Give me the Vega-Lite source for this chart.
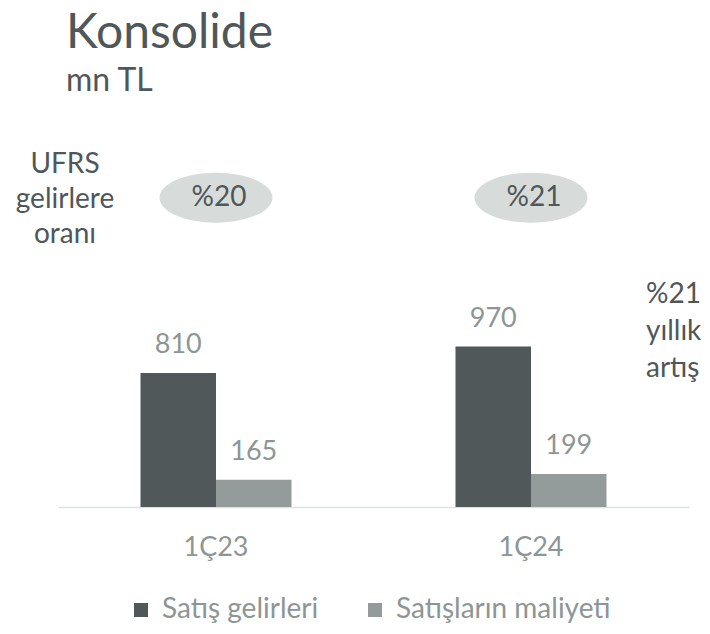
{
  "$schema": "https://vega.github.io/schema/vega-lite/v6.json",
  "width": 631,
  "height": 397,
  "autosize": {"type": "none"},
  "padding": {"left": 58, "top": 110, "right": 21, "bottom": 127},
  "background": "white",
  "title": {
    "text": "Konsolide",
    "subtitle": "mn TL",
    "anchor": "start",
    "frame": "group",
    "dx": 8,
    "offset": 13,
    "font": "Lato",
    "fontSize": 48,
    "fontWeight": "normal",
    "color": "#4F5758",
    "subtitleFont": "Lato",
    "subtitleFontSize": 32,
    "subtitleColor": "#4F5758",
    "subtitlePadding": 8
  },
  "config": {"view": {"stroke": null}, "font": "Lato"},
  "datasets": {
    "bars": [
      {"period": "1Ç23", "series": "Satış gelirleri", "value": 810},
      {"period": "1Ç23", "series": "Satışların maliyeti", "value": 165},
      {"period": "1Ç24", "series": "Satış gelirleri", "value": 970},
      {"period": "1Ç24", "series": "Satışların maliyeti", "value": 199}
    ],
    "ratios": [
      {"period": "1Ç23", "ratio": "%20"},
      {"period": "1Ç24", "ratio": "%21"}
    ],
    "notes": [
      {"period": "1Ç23", "side": "left", "label": ["UFRS", "gelirlere", "oranı"]}
    ],
    "growth": [
      {"period": "1Ç24", "side": "right", "label": ["%21", "yıllık", "artış"]}
    ]
  },
  "layer": [
    {
      "data": {"name": "ratios"},
      "mark": {
        "type": "point",
        "shape": "M -1 0 A 1 0.442 0 1 1 1 0 A 1 0.442 0 1 1 -1 0 Z",
        "size": 12769,
        "filled": true,
        "fill": "#D7DCDB",
        "opacity": 1,
        "strokeWidth": 0
      },
      "encoding": {
        "x": {
          "field": "period",
          "type": "nominal",
          "scale": {"paddingInner": 0.5206, "paddingOuter": 0.2619},
          "axis": {
            "title": null,
            "ticks": false,
            "grid": false,
            "labelAngle": 0,
            "labelFont": "Lato",
            "labelFontSize": 27,
            "labelColor": "#8C9695",
            "labelPadding": 27,
            "domainColor": "#DDE1E1",
            "domainWidth": 1.5
          }
        },
        "y": {"datum": 1870, "type": "quantitative", "scale": {"domain": [0, 2335]}, "axis": null}
      }
    },
    {
      "data": {"name": "ratios"},
      "mark": {"type": "text", "baseline": "middle", "align": "center", "fontSize": 28, "color": "#4F5758", "dx": 3},
      "encoding": {
        "x": {"field": "period", "type": "nominal"},
        "y": {"datum": 1870, "type": "quantitative"},
        "text": {"field": "ratio", "type": "nominal"}
      }
    },
    {
      "data": {"name": "bars"},
      "mark": {"type": "bar"},
      "encoding": {
        "x": {"field": "period", "type": "nominal"},
        "xOffset": {"field": "series", "type": "nominal", "scale": {"paddingInner": 0, "paddingOuter": 0}},
        "y": {"field": "value", "type": "quantitative"},
        "color": {
          "field": "series",
          "type": "nominal",
          "scale": {"domain": ["Satış gelirleri", "Satışların maliyeti"], "range": ["#505859", "#939C9B"]},
          "legend": {
            "title": null,
            "orient": "none",
            "direction": "horizontal",
            "legendX": 69,
            "legendY": 486,
            "symbolType": "square",
            "symbolSize": 196,
            "symbolStrokeWidth": 0,
            "symbolOpacity": 1,
            "labelFont": "Lato",
            "labelFontSize": 28,
            "labelColor": "#8C9695",
            "labelOffset": 7,
            "labelLimit": 400,
            "columnPadding": 42
          }
        }
      }
    },
    {
      "data": {"name": "bars"},
      "mark": {"type": "text", "baseline": "alphabetic", "align": "center", "dy": -20, "fontSize": 27, "color": "#8C9695"},
      "encoding": {
        "x": {"field": "period", "type": "nominal"},
        "xOffset": {"field": "series", "type": "nominal"},
        "y": {"field": "value", "type": "quantitative"},
        "text": {"field": "value", "type": "quantitative"}
      }
    },
    {
      "data": {"name": "notes"},
      "mark": {"type": "text", "baseline": "middle", "align": "center", "dx": -151, "fontSize": 28, "lineHeight": 35, "color": "#4F5758"},
      "encoding": {
        "x": {"field": "period", "type": "nominal"},
        "y": {"datum": 2070, "type": "quantitative"},
        "text": {"field": "label"}
      }
    },
    {
      "data": {"name": "growth"},
      "mark": {"type": "text", "baseline": "middle", "align": "left", "dx": 115, "fontSize": 28, "lineHeight": 37, "color": "#4F5758"},
      "encoding": {
        "x": {"field": "period", "type": "nominal"},
        "y": {"datum": 1283, "type": "quantitative"},
        "text": {"field": "label"}
      }
    }
  ]
}
